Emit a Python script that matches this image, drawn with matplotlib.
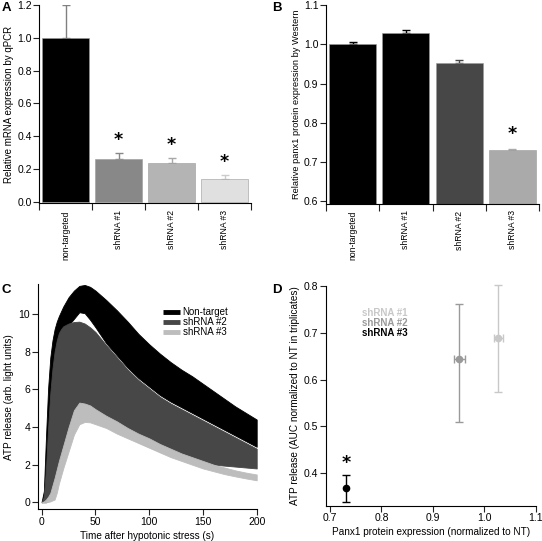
import matplotlib
matplotlib.use("Agg")
import matplotlib.pyplot as plt
import numpy as np

plt.rcParams['font.family'] = ['Liberation Sans', 'DejaVu Sans']
plt.rcParams['axes.linewidth'] = 0.8

# ---------------- Data ----------------
# Panel A: qPCR
a_labels = ["non-targeted", "shRNA #1", "shRNA #2", "shRNA #3"]
a_values = [1.0, 0.26, 0.236, 0.136]
a_errors = [0.2, 0.038, 0.029, 0.029]
a_colors = ["#000000", "#888888", "#b4b4b4", "#e0e0e0"]
a_errcolors = ["#808080", "#888888", "#a8a8a8", "#cccccc"]
a_star_y = [None, 0.375, 0.344, 0.242]

# Panel B: Western
b_labels = ["non-targeted", "shRNA #1", "shRNA #2", "shRNA #3"]
b_values = [1.0, 1.028, 0.951, 0.73]
b_errors = [0.005, 0.008, 0.008, 0.002]
b_colors = ["#000000", "#000000", "#474747", "#aaaaaa"]
b_star_y = [None, None, None, 0.771]

# Panel C: ATP release time course (band edges = mean -/+ error)
c_time = [0, 2, 4, 6, 8, 10, 12, 14, 16, 18, 20, 25, 30, 35, 40, 45, 50,
          60, 70, 80, 90, 100, 110, 120, 130, 140, 150, 160, 170, 180, 190, 200]
nt_high = [0.05, 0.6, 3.5, 6.1, 7.7, 8.6, 9.2, 9.6, 9.9, 10.15, 10.4, 10.9, 11.25, 11.5, 11.55, 11.45, 11.25,
           10.75, 10.2, 9.6, 8.95, 8.4, 7.9, 7.45, 7.05, 6.7, 6.3, 5.9, 5.5, 5.1, 4.75, 4.4]
nt_low = [0.0, 0.1, 1.0, 2.5, 4.0, 5.0, 6.0, 6.8, 7.4, 7.9, 8.3, 9.4, 9.75, 10.1, 10.05, 9.7, 9.3,
          8.45, 7.8, 7.15, 6.6, 6.15, 5.7, 5.35, 5.05, 4.75, 4.45, 4.15, 3.85, 3.55, 3.25, 2.95]
sh2_high = [0.02, 0.3, 1.8, 4.0, 5.8, 7.1, 8.0, 8.6, 9.0, 9.2, 9.35, 9.5, 9.58, 9.6, 9.5, 9.3, 9.05,
            8.35, 7.7, 7.05, 6.5, 6.05, 5.6, 5.25, 4.95, 4.65, 4.35, 4.05, 3.75, 3.45, 3.15, 2.85]
sh2_low = [0.0, 0.0, 0.0, 0.1, 0.3, 0.5, 0.8, 1.2, 1.6, 2.0, 2.4, 3.3, 4.0, 4.4, 4.5, 4.45, 4.35,
           4.1, 3.8, 3.5, 3.2, 2.95, 2.7, 2.5, 2.35, 2.2, 2.1, 2.0, 1.95, 1.9, 1.85, 1.8]
sh3_high = [0.0, 0.05, 0.15, 0.3, 0.5, 0.9, 1.3, 1.75, 2.2, 2.6, 3.0, 4.0, 4.9, 5.3, 5.25, 5.15, 4.95,
            4.6, 4.3, 3.95, 3.65, 3.4, 3.1, 2.85, 2.6, 2.4, 2.2, 2.0, 1.85, 1.7, 1.58, 1.48]
sh3_low = [0.0, 0.0, 0.0, 0.02, 0.05, 0.1, 0.15, 0.5, 1.0, 1.4, 1.8, 2.7, 3.6, 4.15, 4.27, 4.25, 4.15,
           3.95, 3.65, 3.4, 3.15, 2.9, 2.65, 2.4, 2.2, 2.0, 1.8, 1.65, 1.5, 1.38, 1.27, 1.17]
c_series = ["Non-target", "shRNA #2", "shRNA #3"]
c_colors = ["#000000", "#474747", "#bdbdbd"]

# Panel D: ATP release vs protein expression
d_labels = ["shRNA #1", "shRNA #2", "shRNA #3"]
d_x = [1.0275, 0.9515, 0.731]
d_xerr = [0.008, 0.011, 0.0]
d_y = [0.688, 0.645, 0.368]
d_yerr_low = [0.115, 0.135, 0.029]
d_yerr_high = [0.115, 0.117, 0.028]
d_colors = ["#c8c8c8", "#9a9a9a", "#000000"]
d_star = (0.731, 0.423)

# ---------------- Figure ----------------
W, H = 542, 541
fig = plt.figure(figsize=(W / 100, H / 100), dpi=100)


def box(l, r, t, b):
    return [l / W, 1 - b / H, (r - l) / W, (b - t) / H]


TICK_FS = 7.5
LAB_FS = 7.2
CAT_FS = 6.2


def style(ax):
    for s in ("top", "right"):
        ax.spines[s].set_visible(False)
    ax.tick_params(direction="out", length=4, width=0.8, pad=1.5, labelsize=TICK_FS, color="#222222")


def bar_panel(ax, labels, values, errors, colors, errcolors, stars, ylim, yticks, ylabel, labfs):
    style(ax)
    x = np.arange(len(values))
    ax.bar(x, values, width=0.88, color=colors, edgecolor="#9a9a9a", linewidth=0.4, zorder=2)
    for i in range(len(values)):
        ax.errorbar(x[i], values[i], yerr=[[0], [errors[i]]], fmt="none",
                    ecolor=errcolors[i], elinewidth=1.0, capsize=3, capthick=1.0, zorder=1)
        if stars[i] is not None:
            ax.text(x[i], stars[i], "*", ha="center", va="center", fontsize=12.5,
                    fontweight="bold", family="DejaVu Sans")
    ax.set_xlim(-0.5, len(values) - 0.5)
    ax.set_ylim(*ylim)
    ax.set_xticks(np.arange(-0.5, len(values)))
    ax.set_xticklabels([])
    ax.set_xticks(x, minor=True)
    ax.set_xticklabels(labels, minor=True, rotation=90, fontsize=CAT_FS, va="top")
    ax.tick_params(axis="x", which="minor", length=0, pad=5)
    ax.tick_params(axis="x", which="major", length=5)
    ax.set_yticks(yticks)
    ax.set_yticklabels([f"{v:.1f}" for v in yticks])
    ax.set_ylabel(ylabel, fontsize=labfs, labelpad=2)


# Panel A
axA = fig.add_axes(box(39.3, 251, 5, 203.3))
bar_panel(axA, a_labels, a_values, a_errors, a_colors, a_errcolors, a_star_y,
          (-0.01, 1.2), [0.0, 0.2, 0.4, 0.6, 0.8, 1.0, 1.2],
          "Relative mRNA expression by qPCR", 7.0)

# Panel B
axB = fig.add_axes(box(326, 539, 5, 203.5))
bar_panel(axB, b_labels, b_values, b_errors, b_colors,
          ["#000000", "#000000", "#474747", "#aaaaaa"], b_star_y,
          (0.5944, 1.1), [0.6, 0.7, 0.8, 0.9, 1.0, 1.1],
          "Relative panx1 protein expression by Western", 6.7)

# Panel C
axC = fig.add_axes(box(37.7, 256.7, 284, 509.3))
style(axC)
bands = [(nt_low, nt_high), (sh2_low, sh2_high), (sh3_low, sh3_high)]
for (lo, hi), col in zip(bands, c_colors):
    axC.fill_between(c_time, lo, hi, color=col, linewidth=0.6, edgecolor=col)
axC.set_xlim(-3.72, 200)
axC.set_ylim(-0.37, 11.6)
axC.set_xticks([0, 50, 100, 150, 200])
axC.set_yticks([0, 2, 4, 6, 8, 10])
axC.set_xlabel("Time after hypotonic stress (s)", fontsize=LAB_FS, labelpad=3)
axC.set_ylabel("ATP release (arb. light units)", fontsize=LAB_FS, labelpad=3)
leg_y = [0.874, 0.830, 0.786]
for name, col, yy in zip(c_series, c_colors, leg_y):
    axC.plot([0.571, 0.650], [yy, yy], transform=axC.transAxes, color=col, linewidth=3.5,
             solid_capstyle="butt")
    axC.text(0.662, yy, name, transform=axC.transAxes, fontsize=7, va="center", ha="left")

# Panel D
axD = fig.add_axes(box(326, 535.7, 286, 505.5))
style(axD)
for i in range(len(d_x)):
    axD.errorbar(d_x[i], d_y[i], xerr=d_xerr[i] if d_xerr[i] > 0 else None,
                 yerr=[[d_yerr_low[i]], [d_yerr_high[i]]], fmt="o", color=d_colors[i],
                 ecolor=d_colors[i], markersize=4.5, elinewidth=1.0, capsize=3.2, capthick=1.0,
                 clip_on=False)
axD.text(d_star[0], d_star[1], "*", ha="center", va="center", fontsize=12.5, fontweight="bold",
         family="DejaVu Sans")
axD.set_xlim(0.6922, 1.1)
axD.set_ylim(0.3312, 0.8)
axD.set_xticks([0.7, 0.8, 0.9, 1.0, 1.1])
axD.set_yticks([0.4, 0.5, 0.6, 0.7, 0.8])
axD.set_xticklabels(["0.7", "0.8", "0.9", "1.0", "1.1"])
axD.set_yticklabels(["0.4", "0.5", "0.6", "0.7", "0.8"])
axD.set_xlabel("Panx1 protein expression (normalized to NT)", fontsize=LAB_FS, labelpad=3)
axD.set_ylabel("ATP release (AUC normalized to NT in triplicates)", fontsize=LAB_FS, labelpad=3)
for name, col, yy in zip(d_labels, d_colors, [0.8756, 0.830, 0.785]):
    axD.text(0.1717, yy, name, transform=axD.transAxes, fontsize=7, fontweight="bold",
             color=col, va="center", ha="left")

# Panel letters
for lab, (x, y) in zip("ABCD", [(2, 2), (272, 2), (2, 284), (272, 284)]):
    fig.text(x / W, 1 - y / H, lab, fontsize=9.5, fontweight="bold", ha="left", va="top")

fig.savefig("out.png", dpi=100)
